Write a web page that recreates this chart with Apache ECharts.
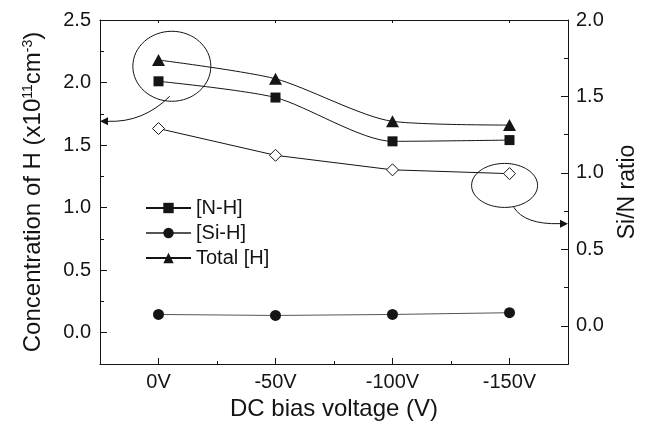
<!DOCTYPE html>
<html><head><meta charset="utf-8">
<script src="https://cdn.jsdelivr.net/npm/echarts@6/dist/echarts.min.js"></script>
<style>html,body{margin:0;padding:0;background:#fff}#c{width:648px;height:432px}</style>
</head><body><div id="c"></div>
<script>
// ---- data ----
const biasValues = [0, -50, -100, -150];
const biasLabels = ['0V', '-50V', '-100V', '-150V'];
const biasMinorTicks = [-25, -75, -125];
const nhValues = [2.01, 1.88, 1.53, 1.54];
const sihValues = [0.146, 0.138, 0.146, 0.16];
const totalHValues = [2.18, 2.03, 1.69, 1.66];
const siNRatio = [1.29, 1.115, 1.02, 0.995];
const leftTicks = [0, 0.5, 1.0, 1.5, 2.0, 2.5];
const leftMinorTicks = [0.25, 0.75, 1.25, 1.75, 2.25];
const rightTicks = [0, 0.5, 1.0, 1.5, 2.0];
const rightMinorTicks = [0.25, 0.75, 1.25, 1.75];
const seriesNames = ['[N-H]', '[Si-H]', 'Total [H]', 'Si/N ratio'];

// annotation geometry (data units)
const noteLeft = { center: [-5.7, 2.13], rx: 39, ry: 35, from: [-4.8, 1.89], ctrl: [6.5, 1.68], tip: [25, 1.69] };
const noteRight = { center: [-147.9, 0.918], rx: 33, ry: 22, from: [-151.8, 0.776], ctrl: [-156.4, 0.661], tip: [-175, 0.668] };

const FONT = "'Liberation Sans', Arial, Helvetica, sans-serif";
const INK = '#141414';
const chart = echarts.init(document.getElementById('c'), null, { renderer: 'canvas' });
const pairs = (ys) => biasValues.map((x, i) => [x, ys[i]]);
const mkLine = () => ({ show: true, onZero: false, lineStyle: { color: INK, width: 1 } });
const noLine = () => ({ show: false, onZero: false });
const xBase = () => ({ type: 'value', min: -175, max: 25, inverse: true, splitLine: { show: false } });
const yLeftBase = () => ({ type: 'value', min: -0.25, max: 2.5, position: 'left', splitLine: { show: false } });
const yRightBase = () => ({ type: 'value', min: -0.25, max: 2.0, position: 'right', splitLine: { show: false } });

chart.setOption({
  animation: false,
  backgroundColor: '#fff',
  textStyle: { fontFamily: FONT, color: INK },
  grid: { left: 100, right: 80, top: 20, bottom: 68, containLabel: false },
  legend: {
    orient: 'vertical', left: 145, top: 198, padding: 0, itemWidth: 45, itemHeight: 13, itemGap: 5,
    data: seriesNames.slice(0, 3),
    textStyle: { fontFamily: FONT, fontSize: 20, color: INK, lineHeight: 20 }
  },
  xAxis: [
    Object.assign(xBase(), {
      position: 'bottom', axisLine: mkLine(),
      axisTick: { show: true, inside: true, length: 6, customValues: biasValues, lineStyle: { color: INK } },
      axisLabel: { customValues: biasValues, formatter: v => biasLabels[biasValues.indexOf(v)], fontSize: 20, margin: 8, color: INK, fontFamily: FONT },
      name: 'DC bias voltage (V)', nameLocation: 'middle', nameGap: 32,
      nameTextStyle: { fontSize: 24, color: INK, fontFamily: FONT }
    }),
    Object.assign(xBase(), {
      position: 'top', axisLine: mkLine(),
      axisTick: { show: true, inside: true, length: 3, customValues: biasValues, lineStyle: { color: INK } },
      axisLabel: { show: false }
    }),
    Object.assign(xBase(), {
      position: 'bottom', axisLine: noLine(),
      axisTick: { show: true, inside: true, length: 3, customValues: biasMinorTicks, lineStyle: { color: INK } },
      axisLabel: { show: false }
    })
  ],
  yAxis: [
    Object.assign(yLeftBase(), {
      axisLine: mkLine(),
      axisTick: { show: true, inside: true, length: 7, customValues: leftTicks, lineStyle: { color: INK } },
      axisLabel: { customValues: leftTicks, formatter: v => v.toFixed(1), fontSize: 20, margin: 9, color: INK, fontFamily: FONT },
      name: 'Concentration of H (x10{sup|11}cm{sup|-3})', nameLocation: 'middle', nameGap: 55, nameRotate: 90,
      nameTextStyle: { fontSize: 24, color: INK, fontFamily: FONT,
        rich: { sup: { fontSize: 14, verticalAlign: 'top', color: INK, fontFamily: FONT, padding: [0, 0, 8, 0] } } }
    }),
    Object.assign(yRightBase(), {
      axisLine: mkLine(),
      axisTick: { show: true, inside: true, length: 7, customValues: rightTicks, lineStyle: { color: INK } },
      axisLabel: { customValues: rightTicks, formatter: v => v.toFixed(1), fontSize: 20, margin: 8, color: INK, fontFamily: FONT },
      name: 'Si/N ratio', nameLocation: 'middle', nameGap: 48, nameRotate: 90,
      nameTextStyle: { fontSize: 23, color: INK, fontFamily: FONT }
    }),
    Object.assign(yLeftBase(), {
      axisLine: noLine(),
      axisTick: { show: true, inside: true, length: 4, customValues: leftMinorTicks, lineStyle: { color: INK } },
      axisLabel: { show: false }
    }),
    Object.assign(yRightBase(), {
      axisLine: noLine(),
      axisTick: { show: true, inside: true, length: 4, customValues: rightMinorTicks, lineStyle: { color: INK } },
      axisLabel: { show: false }
    })
  ],
  series: [
    { name: seriesNames[0], type: 'line', xAxisIndex: 0, yAxisIndex: 0, data: pairs(nhValues),
      symbol: 'rect', symbolSize: 10, smooth: 0.25,
      itemStyle: { color: '#151515' }, lineStyle: { color: INK, width: 1 } },
    { name: seriesNames[1], type: 'line', xAxisIndex: 0, yAxisIndex: 0, data: pairs(sihValues),
      symbol: 'circle', symbolSize: 11,
      itemStyle: { color: '#151515' }, lineStyle: { color: '#555', width: 1 } },
    { name: seriesNames[2], type: 'line', xAxisIndex: 0, yAxisIndex: 0, data: pairs(totalHValues),
      symbol: 'triangle', symbolSize: [13, 12], smooth: 0.25,
      itemStyle: { color: '#151515' }, lineStyle: { color: INK, width: 1 } },
    { name: seriesNames[3], type: 'line', xAxisIndex: 0, yAxisIndex: 1, data: pairs(siNRatio),
      symbol: 'diamond', symbolSize: 12, showAllSymbol: true,
      itemStyle: { color: '#fff', borderColor: INK, borderWidth: 1 }, lineStyle: { color: INK, width: 1 } }
  ]
});

function drawNotes() {
  const px = v => chart.convertToPixel({ xAxisIndex: 0 }, v);
  const py = (axis, v) => chart.convertToPixel({ yAxisIndex: axis }, v);
  const els = [];
  // crisp plot frame along the axis extents
  const x0 = Math.round(px(25)) + 0.5, x1 = Math.round(px(-175)) + 0.5;
  const y0 = Math.round(py(0, 2.5)) + 0.5, y1 = Math.round(py(0, -0.25)) + 0.5;
  els.push({ type: 'rect', shape: { x: x0, y: y0, width: x1 - x0, height: y1 - y0 },
    style: { fill: null, stroke: INK, lineWidth: 1 }, silent: true, z: 10 });
  [[noteLeft, 0, 1], [noteRight, 1, -1]].forEach(([n, ax, dir]) => {
    const cx = px(n.center[0]), cy = py(ax, n.center[1]);
    els.push({ type: 'ellipse', shape: { cx, cy, rx: n.rx, ry: n.ry }, style: { fill: null, stroke: INK, lineWidth: 1 }, silent: true });
    const tx = px(n.tip[0]), ty = py(ax, n.tip[1]);
    const bx = tx + dir * 8;
    els.push({ type: 'bezierCurve', shape: { x1: px(n.from[0]), y1: py(ax, n.from[1]), cpx1: px(n.ctrl[0]), cpy1: py(ax, n.ctrl[1]), x2: bx, y2: ty },
      style: { fill: null, stroke: INK, lineWidth: 1 }, silent: true });
    els.push({ type: 'polygon', shape: { points: [[tx, ty], [bx, ty - 4], [bx, ty + 4]] }, style: { fill: INK }, silent: true });
  });
  chart.setOption({ graphic: { elements: els } });
}
drawNotes();
</script></body></html>
